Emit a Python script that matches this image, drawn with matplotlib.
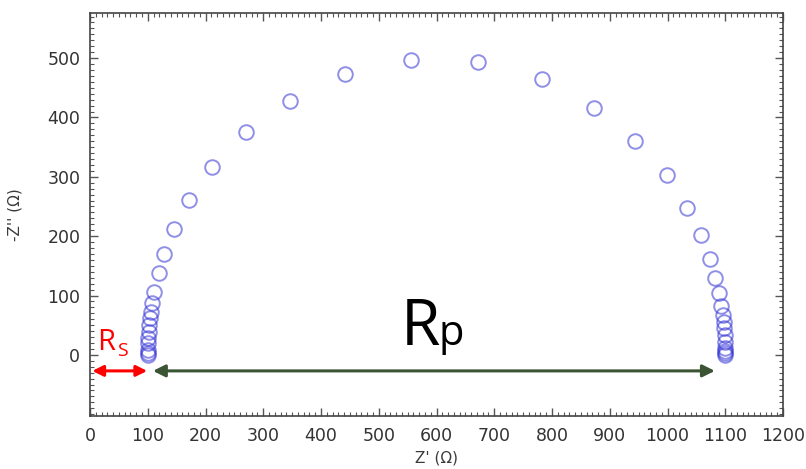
import matplotlib
matplotlib.use("Agg")
import matplotlib.pyplot as plt
from matplotlib.ticker import MultipleLocator

zre_left = [100, 100, 100.1, 100.4, 100.8, 101.5, 102.6, 104, 105.3, 108, 111.5, 119, 129, 146, 171, 211, 270, 346, 442, 556]
zim_left = [0.5, 3, 8, 20, 29, 39, 51, 62, 72, 88, 106, 138, 170, 212, 261, 316, 375, 428, 473, 497]
zre_right = [672, 783, 873, 944, 999, 1034, 1058, 1073, 1083, 1089, 1093, 1095.5, 1097, 1098, 1099, 1099.5, 1100, 1100, 1100, 1100]
zim_right = [493, 465, 416, 360, 303, 247, 202, 162, 130, 104, 82, 67, 56, 45, 34, 22, 12, 7, 3, 0.5]

x_ticks = [0, 100, 200, 300, 400, 500, 600, 700, 800, 900, 1000, 1100, 1200]
y_ticks = [0, 100, 200, 300, 400, 500]

rs_value = 100     # solution resistance
rp_end = 1100      # Rs + Rp

fig = plt.figure(figsize=(8.06, 4.69), dpi=100)
ax = fig.add_axes([90/806, 1-416/469, (783-90)/806, (416-13)/469])

ax.plot(zre_left + zre_right, zim_left + zim_right, linestyle='none', marker='o',
        markersize=10.5, markerfacecolor='none', markeredgecolor='#3333d6',
        markeredgewidth=1.4, alpha=0.55)

ax.set_xlim(0, 1200)
ax.set_ylim(-103, 576)
ax.set_xticks(x_ticks)
ax.set_yticks(y_ticks)
ax.xaxis.set_minor_locator(MultipleLocator(10))
ax.yaxis.set_minor_locator(MultipleLocator(10))
ax.tick_params(which='both', direction='in', top=True, right=True, colors='#555555',
               labelcolor='#333333', labelsize=12.5)
ax.tick_params(which='major', length=6, width=1)
ax.tick_params(which='minor', length=3, width=0.8)
ax.tick_params(axis='x', which='major', pad=8)
ax.tick_params(axis='y', which='major', pad=7)
for s in ax.spines.values():
    s.set_color('#444444')
    s.set_linewidth(1.2)

ax.set_xlabel("Z' (\u03a9)", fontsize=11, color='#3a3a3a', labelpad=4)
ax.set_ylabel("-Z'' (\u03a9)", fontsize=11, color='#3a3a3a', labelpad=18)

# Rs arrow and label
ax.annotate('', xy=(4, -27), xytext=(rs_value - 1, -27),
            arrowprops=dict(arrowstyle='<|-|>', color='red', lw=2.2,
                            mutation_scale=16, shrinkA=0, shrinkB=0))
ax.text(13, 8, 'R', color='red', fontsize=21, family='Open Sans', ha='left', va='baseline')
ax.text(47, -2, 'S', color='red', fontsize=14, family='Open Sans', ha='left', va='baseline')

# Rp arrow and label
ax.annotate('', xy=(rs_value + 9, -27), xytext=(rp_end - 18, -27),
            arrowprops=dict(arrowstyle='<|-|>', color='#3b5534', lw=2.2,
                            mutation_scale=18, shrinkA=0, shrinkB=0))
ax.text(538, 17, 'R', color='black', fontsize=46, family='Open Sans', ha='left', va='baseline')
ax.text(604, 17, 'p', color='black', fontsize=30, family='Open Sans', ha='left', va='baseline')

fig.savefig('out.png', dpi=100)
